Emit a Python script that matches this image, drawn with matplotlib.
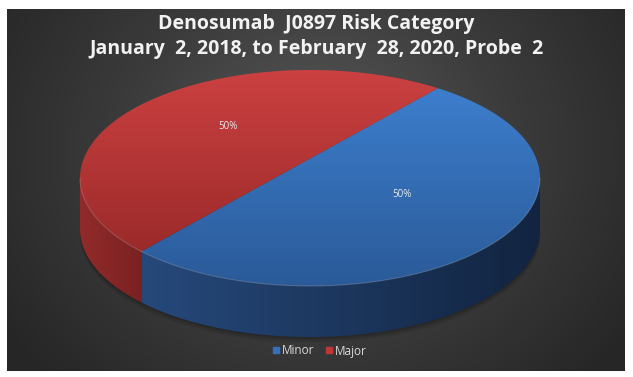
import numpy as np
import matplotlib
matplotlib.use('Agg')
import matplotlib.pyplot as plt
from matplotlib.colors import LinearSegmentedColormap
from matplotlib.patches import Polygon
from matplotlib.lines import Line2D

categories = ['Minor', 'Major']
values = [50, 50]
title_lines = ['Denosumab  J0897 Risk Category',
               'January  2, 2018, to February  28, 2020, Probe  2']

top_cols = [('#3d7ecd', '#2a5a98'), ('#cc4141', '#9c2a2a')]
side_cols = [('#26497b', '#122440'), ('#922b2b', '#7a2121')]
legend_cols = ['#3570c0', '#c03636']

W, H = 633, 377
CX, CY = 310, 178        # ellipse centre (px)
A, B = 230, 108          # ellipse semi axes (px)
K = 0.18                 # perspective
DEPTH = 51
START = 50               # angle of first slice (deg), slices run clockwise

plt.rcParams['font.family'] = ['Open Sans', 'DejaVu Sans']

fig = plt.figure(figsize=(W / 100, H / 100), dpi=100, facecolor='white')
ax = fig.add_axes([0, 0, 1, 1])
ax.axis('off')


def proj(u, v):
    d = 1 + K * v
    xp, yp = u / d, v / d
    X = CX + xp * A * np.sqrt(1 - K ** 2)
    Y = CY - (yp + K / (1 - K ** 2)) * B * (1 - K ** 2)
    return X, Y


def grad_fill(poly_xy, c0, c1, horizontal, zorder):
    patch = Polygon(poly_xy, closed=True, fill=False, lw=0, zorder=zorder)
    ax.add_patch(patch)
    cmap = LinearSegmentedColormap.from_list('g', [c0, c1])
    g = np.linspace(0, 1, 256)
    xs, ys = poly_xy[:, 0], poly_xy[:, 1]
    if horizontal:
        arr = g[None, :]
    else:
        arr = g[:, None]
    im = ax.imshow(arr, cmap=cmap, aspect='auto', interpolation='bilinear',
                   extent=[xs.min() - 1, xs.max() + 1, ys.max() + 1, ys.min() - 1],
                   zorder=zorder)
    im.set_clip_path(patch)


# background panel with radial gradient
px0, px1, py0, py1 = 7, 625, 9, 371
gx, gy = np.meshgrid(np.linspace(px0, px1, 400), np.linspace(py0, py1, 240))
r = np.sqrt(((gx - 318) / 1.15) ** 2 + (gy - 150) ** 2) / 330
r = np.clip(r, 0, 1)
bg = LinearSegmentedColormap.from_list('bg', ['#5a5a5a', '#3c3c3c', '#262626'])
ax.imshow(r, cmap=bg, extent=[px0, px1, py1, py0], aspect='auto',
          interpolation='bilinear', zorder=0)

# soft shadow under the pie
th = np.linspace(0, 2 * np.pi, 400)
ex, ey = proj(np.cos(th), np.sin(th))
for i, a in enumerate([0.05, 0.06, 0.08, 0.1]):
    s = 6 - 1.5 * i
    ax.add_patch(Polygon(np.column_stack([ex, ey + DEPTH + s]), closed=True,
                         fc='black', ec='none', alpha=a, zorder=1))

total = sum(values)
bounds = START - np.cumsum([0] + values) * 360 / total

# sides
for i in range(len(values)):
    t = np.radians(np.linspace(bounds[i], bounds[i + 1], 1500))
    x, y = proj(np.cos(t), np.sin(t))
    m = y >= CY
    if m.sum() < 2:
        continue
    x, y = x[m], y[m]
    poly = np.column_stack([np.concatenate([x, x[::-1]]),
                            np.concatenate([y, y[::-1] + DEPTH])])
    grad_fill(poly, side_cols[i][0], side_cols[i][1], True, 2)

# tops
for i in range(len(values)):
    t = np.radians(np.linspace(bounds[i], bounds[i + 1], 600))
    x, y = proj(np.cos(t), np.sin(t))
    c = proj(0.0, 0.0)
    poly = np.column_stack([np.concatenate([[c[0]], x]), np.concatenate([[c[1]], y])])
    grad_fill(poly, top_cols[i][0], top_cols[i][1], False, 3)
    m = y >= CY
    ax.plot(x[m], y[m], color='white', alpha=0.18, lw=0.8, zorder=4)
    mid = np.radians((bounds[i] + bounds[i + 1]) / 2)
    lx, ly = proj(0.5 * np.cos(mid), 0.5 * np.sin(mid))
    ax.text(lx, ly, f'{values[i] / total:.0%}', color='#e8e8e8', fontsize=7,
            ha='center', va='center', zorder=5)

# title
for yy, line in zip([24, 49], title_lines):
    ax.text(W / 2, yy, line, color='#f2f2f2', fontsize=14,
            fontweight='bold', ha='center', va='center', zorder=5)

handles = [Line2D([], [], marker='s', ls='none', ms=5, mfc=c, mec=c)
           for c in legend_cols]
ax.legend(handles, categories, loc='center', bbox_to_anchor=(319 / W, 1 - 351 / H),
          ncol=2, frameon=False, fontsize=8.5, labelcolor='#d9d9d9',
          handletextpad=0.1, columnspacing=0.8, handlelength=0.8)

ax.set_xlim(0, W)
ax.set_ylim(H, 0)
fig.savefig('out.png', dpi=100, facecolor='white')
